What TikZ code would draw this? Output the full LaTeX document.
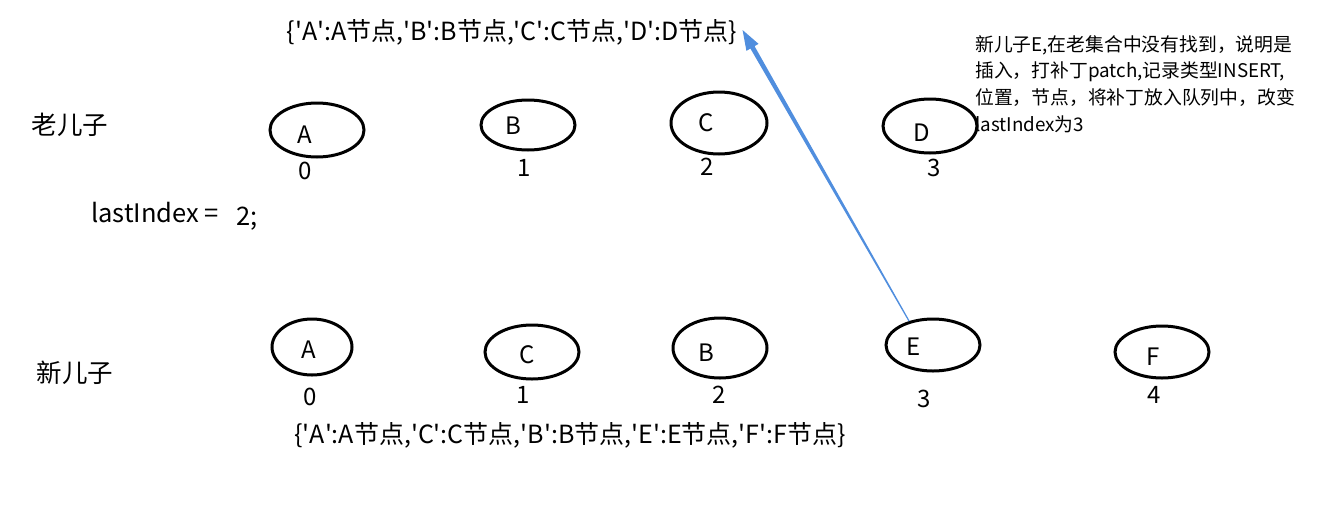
\documentclass[tikz,border=0pt]{standalone}
\usepackage{fontspec}
\setmainfont{Noto Sans CJK SC}
\usetikzlibrary{shapes.geometric,calc}
\definecolor{arrowblue}{RGB}{80,142,222}
\newcommand{\qq}{\textquotesingle}
\begin{document}
\begin{tikzpicture}[x=1pt,y=-1pt,
  oval/.style={draw=black,line width=3pt,ellipse,inner sep=0pt},
  letter/.style={font=\fontsize{24}{26}\selectfont,inner sep=0pt},
  idx/.style={font=\fontsize{24}{26}\selectfont,inner sep=0pt},
  side/.style={font=\fontsize{25.5}{28}\selectfont,inner sep=0pt},
  dict/.style={font=\fontsize{25}{28}\selectfont,inner sep=0pt},
  note/.style={font=\fontsize{18.8}{26.7}\selectfont,inner sep=0pt,align=left,anchor=north west}]
\useasboundingbox (0,0) rectangle (1322,512);
% old children
\node[oval,minimum width=94pt,minimum height=54pt] (oA) at (317,130) {};
\node[oval,minimum width=94pt,minimum height=50pt] (oB) at (528,125) {};
\node[oval,minimum width=96pt,minimum height=62pt] (oC) at (719,123) {};
\node[oval,minimum width=94pt,minimum height=54pt] (oD) at (930,126) {};
\node[letter] (oAt) at (305,135) {A};
\node[letter] (oBt) at (513,126) {B};
\node[letter] (oCt) at (706,123) {C};
\node[letter] (oDt) at (922,133) {D};
\node[idx] (oA0) at (305,171) {0};
\node[idx] (oB1) at (524,168) {1};
\node[idx] (oC2) at (707,167) {2};
\node[idx] (oD3) at (934,168) {3};
% new children
\node[oval,minimum width=80pt,minimum height=56pt] (nA) at (312,347) {};
\node[oval,minimum width=94pt,minimum height=54pt] (nC) at (532,352) {};
\node[oval,minimum width=94pt,minimum height=60pt] (nB) at (720,348) {};
\node[oval,minimum width=94pt,minimum height=52pt] (nE) at (933,345) {};
\node[oval,minimum width=94pt,minimum height=52pt] (nF) at (1162,352) {};
\node[letter] (nAt) at (309,350) {A};
\node[letter] (nCt) at (527,355) {C};
\node[letter] (nBt) at (706,353) {B};
\node[letter] (nEt) at (914,347) {E};
\node[letter] (nFt) at (1153,357) {F};
\node[idx] (nA0) at (310,397) {0};
\node[idx] (nC1) at (523,395) {1};
\node[idx] (nB2) at (719,395) {2};
\node[idx] (nE3) at (924,399) {3};
\node[idx] (nF4) at (1154,395) {4};
% side labels
\node[side] (old) at (70,125) {老儿子};
\node[side] (new) at (75,373) {新儿子};
\node[side,anchor=west] (li) at (91,213) {lastIndex =};
\node[side,anchor=west] (two) at (236,219) {2;};
% dicts
\node[dict] (topdict) at (512,32) {\{\qq A\qq:A节点,\qq B\qq:B节点,\qq C\qq:C节点,\qq D\qq:D节点\}};
\node[dict] (botdict) at (570,435) {\{\qq A\qq:A节点,\qq C\qq:C节点,\qq B\qq:B节点,\qq E\qq:E节点,\qq F\qq:F节点\}};
% note
\node[note] (note) at (975,35) {新儿子E,在老集合中没有找到，说明是\\插入，打补丁patch,记录类型INSERT,\\位置，节点，将补丁放入队列中，改变\\lastIndex为3};
% arrow
\coordinate (S) at (nE.135);
\coordinate (T) at ($(topdict.east)+(5,-2)$);
\coordinate (Bs) at ($(T)!20pt!(S)$);
\fill[arrowblue] ($(S)!0.6pt!90:(T)$) -- ($(Bs)!2.4pt!-90:(S)$) -- ($(Bs)!7pt!-90:(S)$) -- (T)
  -- ($(Bs)!7pt!90:(S)$) -- ($(Bs)!2.4pt!90:(S)$) -- ($(S)!0.6pt!-90:(T)$) -- cycle;
\end{tikzpicture}
\end{document}
